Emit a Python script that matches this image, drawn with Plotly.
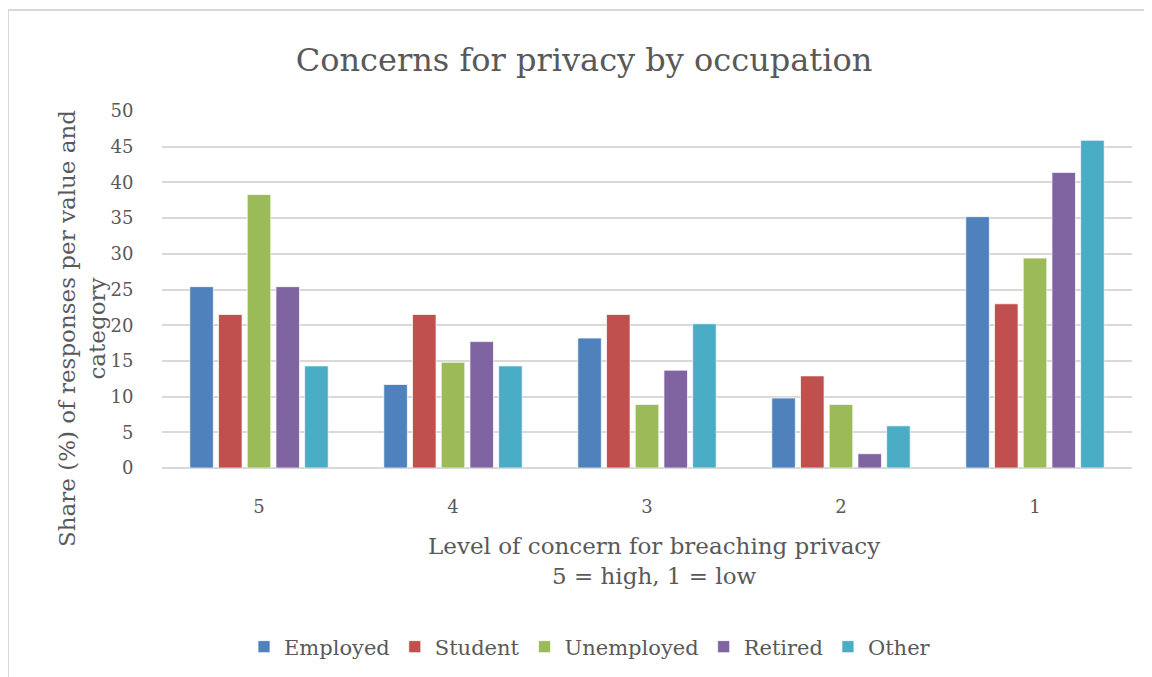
import plotly.graph_objects as go

categories = ["5", "4", "3", "2", "1"]
employed = [25.4, 11.7, 18.2, 9.8, 35.2]
student = [21.5, 21.5, 21.5, 12.9, 23.0]
unemployed = [38.3, 14.8, 8.9, 8.9, 29.4]
retired = [25.4, 17.7, 13.7, 2.0, 41.4]
other = [14.3, 14.3, 20.2, 5.9, 45.9]

series = [
    ("Employed", employed, "#4F81BD"),
    ("Student", student, "#C0504D"),
    ("Unemployed", unemployed, "#9BBB59"),
    ("Retired", retired, "#8064A2"),
    ("Other", other, "#4BACC6"),
]

FONT = "DejaVu Serif"
GREY = "#595959"

fig = go.Figure()
for name, vals, col in series:
    fig.add_trace(go.Bar(
        name=name, x=categories, y=vals,
        marker=dict(color=col, line=dict(color="rgba(255,255,255,0.7)", width=1)),
    ))

OFF = 8  # page body margin
W, H = 1152, 677
# target plot area in page coordinates: x 162..1132, y 111..468
PL, PR, PT, PB = 162, 1132, 111, 468
L = PL - OFF
R = W - (PR - OFF)
T = PT - OFF
B = H - (PB - OFF)
pw, ph = PR - PL, PB - PT

def px(x):
    return (x - PL) / pw

def py(y):
    return (PB - y) / ph

fig.update_layout(
    width=W, height=H,
    margin=dict(l=L, r=R, t=T, b=B),
    paper_bgcolor="white", plot_bgcolor="white",
    barmode="group", bargap=0.26, bargroupgap=0.18,
    font=dict(family=FONT, color=GREY, size=18),
    title=dict(text="Concerns for privacy by occupation",
               x=(584 - OFF) / W, xanchor="center", y=1 - (60 - OFF) / H, yanchor="middle",
               xref="container", yref="container",
               font=dict(family=FONT, size=32, color=GREY)),
    legend=dict(orientation="h", x=px(590), xanchor="center",
                y=py(647), yanchor="middle",
                font=dict(family=FONT, size=21, color=GREY),
                itemwidth=30, tracegroupgap=0),
    xaxis=dict(type="category", showgrid=False, showline=False, zeroline=False,
               ticks="outside", ticklen=22, tickcolor="rgba(0,0,0,0)",
               tickfont=dict(family=FONT, size=18, color=GREY)),
    yaxis=dict(range=[0, 50], dtick=5, showgrid=True, gridcolor="#D9D9D9",
               gridwidth=1.5, zeroline=True, zerolinecolor="#D9D9D9",
               zerolinewidth=1.5, showline=False,
               ticks="outside", ticklen=24, tickcolor="rgba(0,0,0,0)",
               tickfont=dict(family=FONT, size=18, color=GREY)),
    annotations=[
        dict(text="Level of concern for breaching privacy<br>5 = high, 1 = low",
             x=px(654), y=py(561), xref="paper", yref="paper",
             xanchor="center", yanchor="middle", showarrow=False,
             font=dict(family=FONT, size=23, color=GREY)),
        dict(text="Share (%) of responses per value and<br>category",
             x=px(82), y=py(329), xref="paper", yref="paper",
             xanchor="center", yanchor="middle", textangle=-90, showarrow=False,
             font=dict(family=FONT, size=23, color=GREY)),
    ],
    shapes=[
        dict(type="rect", xref="paper", yref="paper",
             x0=px(8), x1=px(1170), y0=py(700), y1=py(10),
             line=dict(color="#D9D9D9", width=2), fillcolor="rgba(0,0,0,0)",
             layer="below"),
    ],
)

fig.write_html("out.html")
